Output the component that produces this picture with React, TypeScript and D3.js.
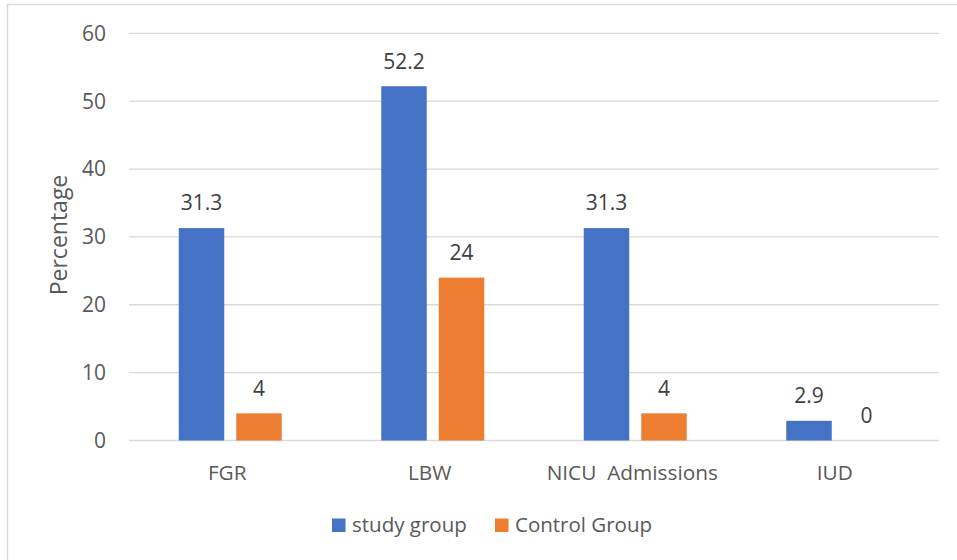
import React from "react";
import * as d3 from "d3";

const categories = ["FGR", "LBW", "NICU  Admissions", "IUD"];
const seriesNames = ["study group", "Control Group"];
const studyGroup = [31.3, 52.2, 31.3, 2.9];
const controlGroup = [4, 24, 4, 0];
const yTicks = [0, 10, 20, 30, 40, 50, 60];
const colors = ["#4472C4", "#ED7D31"];

const W = 957;
const H = 560;
const FONT = "'Open Sans', sans-serif";

export default function App() {
  const plot = { left: 129, right: 939, top: 33.3, bottom: 440.5 };

  const x0 = d3
    .scaleBand<string>()
    .domain(categories)
    .range([plot.left, plot.right])
    .paddingInner(0)
    .paddingOuter(0);

  const y = d3.scaleLinear().domain([0, 60]).range([plot.bottom, plot.top]);

  const bw = x0.bandwidth();
  const barW = 45.5;
  const gap = 12;
  const groupW = barW * 2 + gap;
  const x1 = d3
    .scaleOrdinal<number, number>()
    .domain([0, 1])
    .range([(bw - groupW) / 2, (bw - groupW) / 2 + barW + gap]);

  const series = [studyGroup, controlGroup];

  return (
    <svg
      width={W}
      height={H}
      style={{ position: "fixed", left: 0, top: 0, background: "#fff" }}
      fontFamily={FONT}
    >
      <rect x={0} y={0} width={W} height={H} fill="#fff" />
      <rect
        x={7.5}
        y={4.5}
        width={W + 10}
        height={H + 10}
        fill="none"
        stroke="#d9d9d9"
        strokeWidth={1.5}
      />

      {/* gridlines and y tick labels */}
      {yTicks.map((t) => (
        <g key={t}>
          <line
            x1={plot.left}
            x2={plot.right}
            y1={y(t)}
            y2={y(t)}
            stroke="#d9d9d9"
            strokeWidth={1.3}
          />
          <text
            x={106}
            y={y(t)}
            dy="0.35em"
            textAnchor="end"
            fontSize={21}
            fill="#595959"
          >
            {t}
          </text>
        </g>
      ))}

      {/* bars */}
      {categories.map((c, i) => (
        <g key={c} transform={`translate(${x0(c)},0)`}>
          {series.map((s, k) => (
            <g key={k}>
              <rect
                x={x1(k)}
                y={y(s[i])}
                width={barW}
                height={y(0) - y(s[i])}
                fill={colors[k]}
              />
              <text
                x={x1(k) + barW / 2}
                y={y(s[i]) - 17.6}
                textAnchor="middle"
                fontSize={21}
                fill="#404040"
              >
                {s[i]}
              </text>
            </g>
          ))}
          <text
            x={bw / 2 - 3}
            y={479.5}
            textAnchor="middle"
            fontSize={20.8}
            fill="#595959"
            style={{ whiteSpace: "pre" }}
          >
            {c}
          </text>
        </g>
      ))}

      {/* y axis title */}
      <text
        transform={`translate(66.5,235) rotate(-90)`}
        textAnchor="middle"
        fontSize={23}
        fill="#595959"
      >
        Percentage
      </text>

      {/* legend */}
      {seriesNames.map((n, k) => {
        const lx = [332, 495][k];
        return (
          <g key={n}>
            <rect x={lx} y={518.5} width={13.5} height={13.5} fill={colors[k]} />
            <text x={lx + 20} y={532} fontSize={20.5} fill="#595959">
              {n}
            </text>
          </g>
        );
      })}
    </svg>
  );
}
